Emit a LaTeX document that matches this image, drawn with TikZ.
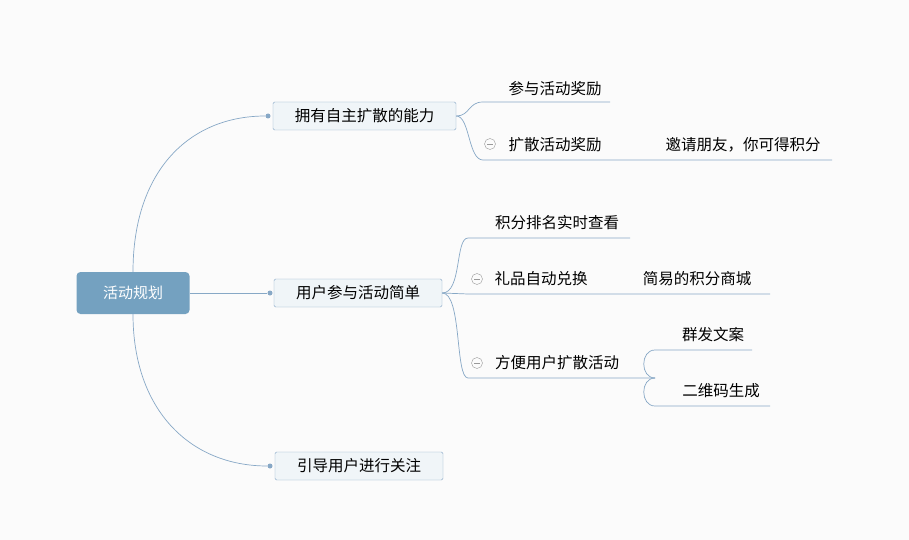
\documentclass[tikz,border=0pt]{standalone}
\usepackage{fontspec}
\newfontfamily\cjk{Noto Sans CJK SC}
\definecolor{bgcol}{RGB}{251,251,251}
\definecolor{linecol}{RGB}{135,168,198}
\definecolor{rootcol}{RGB}{116,161,192}
\definecolor{boxcol}{RGB}{240,245,248}
\begin{document}
\begin{tikzpicture}[x=1pt,y=-1pt,
        rootnode/.style={rectangle, rounded corners=4pt, fill=rootcol, text=white, minimum width=113pt, minimum height=42pt, font=\cjk\fontsize{15}{15}\selectfont},
        topicnode/.style={rectangle, rounded corners=1.5pt, draw=linecol, fill=boxcol, minimum height=28pt, inner xsep=0pt, font=\cjk\fontsize{15.5}{15.5}\selectfont},
        leafnode/.style={font=\cjk\fontsize{15.5}{15.5}\selectfont, inner sep=0pt},
        link/.style={draw=linecol, line width=0.7pt},
        tip/.style={circle, fill=linecol, inner sep=0pt, minimum size=5pt},
        fold/.style={circle, draw=gray!80, inner sep=0pt, minimum size=11pt},
    ]
    \fill[bgcol] (0,0) rectangle (909,540);
    \useasboundingbox (0,0) rectangle (909,540);
    % Nodes
    \node[rootnode]  (root)  at (133,293) {活动规划};
    \node[topicnode, minimum width=183pt] (ability) at (364.5,116) {拥有自主扩散的能力};
    \node[topicnode, minimum width=168pt] (simple)  at (358,293) {用户参与活动简单};
    \node[topicnode, minimum width=168pt] (follow)  at (359,466) {引导用户进行关注};

    \node[tip] (dotA) at (268,116) {};
    \node[tip] (dotB) at (270,293) {};
    \node[tip] (dotC) at (270,466) {};

    % leaves
    \node[leafnode] (joinaward)   at (555,89)  {参与活动奖励};
    \node[leafnode] (spreadaward) at (555,145) {扩散活动奖励};
    \node[leafnode] (invite)      at (743,145) {邀请朋友，你可得积分};
    \node[leafnode] (ranking)     at (557,223) {积分排名实时查看};
    \node[leafnode] (gift)        at (541,279) {礼品自动兑换};
    \node[leafnode] (shop)        at (697,279) {简易的积分商城};
    \node[leafnode] (easyspread)  at (557,363) {方便用户扩散活动};
    \node[leafnode] (massmsg)     at (713,335) {群发文案};
    \node[leafnode] (qrcode)      at (721,391) {二维码生成};

    \node[fold] (foldA) at (490,144) {};
    \node[fold] (foldB) at (477,279) {};
    \node[fold] (foldC) at (477,363) {};
    \foreach \f in {foldA,foldB,foldC}
        \draw[gray!80, line width=0.6pt] ([xshift=-3pt]\f.center) -- ([xshift=3pt]\f.center);

    % underline coordinates
    \coordinate (jA) at (483,102);  \coordinate (jB) at (610,102);
    \coordinate (sA) at (483,160);  \coordinate (sB) at (640,160);
    \coordinate (iB) at (832,160);
    \coordinate (rA) at (468,238);  \coordinate (rB) at (630,238);
    \coordinate (gA) at (468,294);  \coordinate (gB) at (595,294);
    \coordinate (pB) at (770,294);
    \coordinate (eA) at (468,378);  \coordinate (eB) at (655,378);
    \coordinate (mA) at (655,350);  \coordinate (mB) at (752,350);
    \coordinate (qA) at (655,406);  \coordinate (qB) at (770,406);

    % Lines
    \draw[link] (root.north) .. controls (133,170) and (190,116) .. (dotA);
    \draw[link] (root.east) -- (dotB);
    \draw[link] (root.south) .. controls (133,410) and (190,466) .. (dotC);

    \draw[link] (ability.east) .. controls (470,116) and (468,102) .. (jA) -- (jB);
    \draw[link] (ability.east) .. controls (470,116) and (468,160) .. (sA) -- (sB) -- (iB);

    \draw[link] (simple.east) .. controls (462,293) and (455,238) .. (rA) -- (rB);
    \draw[link] (simple.east) .. controls (455,293) and (455,294) .. (gA) -- (gB) -- (pB);
    \draw[link] (simple.east) .. controls (462,293) and (455,378) .. (eA) -- (eB);

    \draw[link] (eB) .. controls (640,378) and (640,350) .. (mA) -- (mB);
    \draw[link] (eB) .. controls (640,378) and (640,406) .. (qA) -- (qB);
\end{tikzpicture}
\end{document}
